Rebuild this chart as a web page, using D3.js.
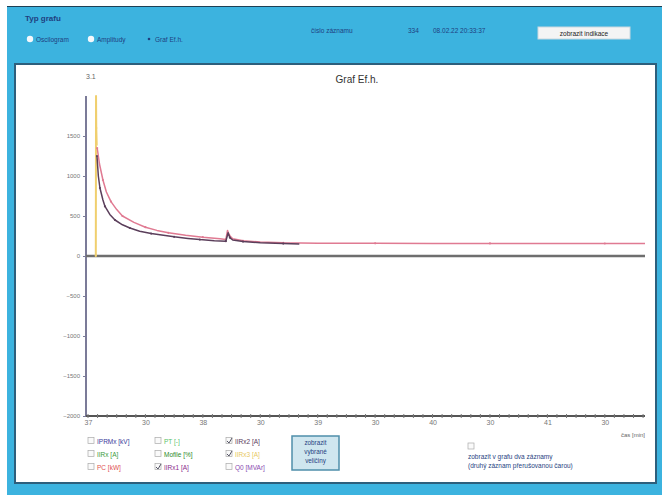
<!DOCTYPE html>
<html>
<head>
<meta charset="utf-8">
<script src="https://cdn.jsdelivr.net/npm/d3@7"></script>
<style>
  body { margin: 0; background: #fff; }
  svg { display: block; font-family: "Liberation Sans", Arial, sans-serif; }
</style>
</head>
<body>
<svg id="chart" width="662" height="495"></svg>
<script>
// time in minutes, values in A
const xTicks = [37, 37.5, 38, 38.5, 39, 39.5, 40, 40.5, 41, 41.5];
const xTickLabels = ['37', '30', '38', '30', '39', '30', '40', '30', '41', '30'];
const yTicks = [1500, 1000, 500, 0, -500, -1000, -1500, -2000];

const yellowT = [37.068, 37.070, 37.072, 37.076];
const yellowV = [0, 2000, 1600, 1380];

const darkT = [37.078, 37.09, 37.104, 37.13, 37.148, 37.19, 37.235, 37.3, 37.365, 37.45, 37.55, 37.626, 37.75, 37.87, 37.974, 38.1, 38.2, 38.22, 38.235, 38.26, 38.35, 38.5, 38.7, 38.84];
const darkV = [1250, 1000, 850, 700, 620, 520, 450, 390, 350, 310, 280, 265, 240, 220, 205, 192, 185, 290, 230, 200, 180, 165, 155, 150];

const pinkT = [37.08, 37.1, 37.13, 37.16, 37.2, 37.25, 37.3, 37.4, 37.5, 37.6, 37.7, 37.85, 38.0, 38.15, 38.2, 38.215, 38.23, 38.26, 38.35, 38.5, 38.7, 39.0, 39.5, 40.0, 40.5, 41.0, 41.5, 41.85];
const pinkV = [1350, 1150, 950, 800, 680, 580, 500, 420, 360, 320, 290, 260, 235, 215, 205, 320, 260, 215, 190, 175, 165, 160, 158, 157, 157, 156, 156, 156];

const legendNames = ['IPRMx [kV]', 'IIRx [A]', 'PC [kW]', 'PT [-]', 'Mofile [%]', 'IIRx1 [A]', 'IIRx2 [A]', 'IIRx3 [A]', 'Q0 [MVAr]'];
const legendColors = ['#3a3a9a', '#3a9a3a', '#e05050', '#5abf6a', '#2a8a2a', '#8a2a8a', '#5a3a5a', '#e8c860', '#8a4ab0'];
const legendChecked = [false, false, false, false, false, true, true, true, false];

const svg = d3.select('#chart');

// page background
svg.append('rect').attr('x', 7).attr('y', 6).attr('width', 655).attr('height', 489).attr('fill', '#3cb3df');
svg.append('line').attr('x1', 7).attr('x2', 662).attr('y1', 6.5).attr('y2', 6.5).attr('stroke', '#1d3f55');
svg.append('rect').attr('x', 15).attr('y', 64).attr('width', 641).attr('height', 419)
    .attr('fill', '#fff').attr('stroke', '#2d5f7c').attr('stroke-width', 2);

// ---- header controls ----
const dark = '#1f3f7f';
svg.append('text').attr('x', 25).attr('y', 21).attr('font-size', 8).attr('font-weight', 'bold')
    .attr('fill', dark).text('Typ grafu');
const radios = [['Oscilogram', 27], ['Amplitudy', 88], ['Graf Ef.h.', 146]];
radios.forEach(([name, x], i) => {
    if (i < 2) {
        svg.append('circle').attr('cx', x + 3).attr('cy', 39).attr('r', 3.2).attr('fill', '#f4f8fc');
    } else {
        svg.append('circle').attr('cx', x + 3).attr('cy', 39).attr('r', 1.3).attr('fill', dark);
    }
    svg.append('text').attr('x', x + 9).attr('y', 41.5).attr('font-size', 6.5).attr('fill', dark).text(name);
});
svg.append('text').attr('x', 311).attr('y', 33).attr('font-size', 6.5).attr('fill', dark).text('číslo záznamu');
svg.append('text').attr('x', 408).attr('y', 33).attr('font-size', 6.5).attr('fill', dark).text('334');
svg.append('text').attr('x', 433).attr('y', 33).attr('font-size', 6.5).attr('fill', dark).text('08.02.22 20:33:37');
svg.append('rect').attr('x', 538).attr('y', 27).attr('width', 92).attr('height', 12)
    .attr('fill', '#f4f4f4').attr('stroke', '#c8d8e0');
svg.append('text').attr('x', 584).attr('y', 36).attr('text-anchor', 'middle').attr('font-size', 6.5)
    .attr('fill', '#222').text('zobrazit indikace');

// ---- plot ----
const x = d3.scaleLinear().domain([37, 41.85]).range([88, 645]);
const y = d3.scaleLinear().domain([-2000, 2000]).range([416, 96]);

const g = svg.append('g');

g.append('text').attr('x', 357).attr('y', 83).attr('text-anchor', 'middle').attr('font-size', 10)
    .attr('fill', '#333').text('Graf Ef.h.');
g.append('text').attr('x', 86).attr('y', 79).attr('font-size', 7).attr('fill', '#666').text('3.1');

// y axis
const yAxis = d3.axisLeft(y).tickValues(yTicks).tickSize(3).tickFormat(d3.format('d'));
const yg = g.append('g').attr('transform', 'translate(86,0)').call(yAxis);
yg.select('.domain').attr('stroke', '#7b7b98').attr('stroke-width', 2).attr('d', 'M0,' + y(2000) + 'V' + y(-2000));
yg.selectAll('.tick line').attr('stroke', '#7b7b98');
yg.selectAll('.tick text').attr('font-size', 6).attr('fill', '#777').attr('font-family', 'Liberation Sans, Arial');

// x axis
const xAxis = d3.axisBottom(x).tickValues(xTicks).tickSize(0)
    .tickFormat(d => xTickLabels[xTicks.indexOf(d)]);
const xg = g.append('g').attr('transform', 'translate(0,' + y(-2000) + ')').call(xAxis);
xg.select('.domain').attr('stroke', '#555').attr('stroke-width', 2).attr('d', 'M86,0H645');
xg.selectAll('.tick text').attr('font-size', 7).attr('fill', '#777').attr('dy', '0.9em')
    .attr('font-family', 'Liberation Sans, Arial');
// minor ticks every 5 s
const minor = d3.range(37, 41.85, 1 / 12);
g.append('g').selectAll('line').data(minor).join('line')
    .attr('x1', d => x(d)).attr('x2', d => x(d))
    .attr('y1', y(-2000) - 2).attr('y2', y(-2000) + 2)
    .attr('stroke', '#777').attr('stroke-width', 1);
g.append('text').attr('x', 645).attr('y', 437).attr('text-anchor', 'end').attr('font-size', 6)
    .attr('fill', '#666').text('čas [min]');

// zero line
g.append('line').attr('x1', 86).attr('x2', 645).attr('y1', y(0)).attr('y2', y(0))
    .attr('stroke', '#6e6e6e').attr('stroke-width', 2.5);

// series
const line = d3.line().x(d => x(d[0])).y(d => y(d[1]));
const series = [
    [yellowT, yellowV, '#f0cf6e', 2],
    [pinkT, pinkV, '#e07a92', 1.5],
    [darkT, darkV, '#5b3f5b', 1.5]
];
series.forEach(([t, v, c, w]) => {
    const pts = t.map((d, i) => [d, v[i]]);
    g.append('path').datum(pts).attr('d', line).attr('fill', 'none')
        .attr('stroke', c).attr('stroke-width', w).attr('stroke-linejoin', 'round');
    g.append('g').selectAll('circle').data(pts.filter((d, i) => i % 2 === 0)).join('circle')
        .attr('cx', d => x(d[0])).attr('cy', d => y(d[1])).attr('r', 1.1).attr('fill', c);
});

// ---- legend ----
const lg = svg.append('g');
legendNames.forEach((name, i) => {
    const col = Math.floor(i / 3), row = i % 3;
    const lx = [88, 155, 226][col], ly = 441 + row * 13;
    lg.append('rect').attr('x', lx).attr('y', ly - 3.5).attr('width', 6).attr('height', 6)
        .attr('fill', '#fafafa').attr('stroke', '#aaa').attr('stroke-width', 0.7);
    if (legendChecked[i]) {
        lg.append('path').attr('d', `M${lx + 1},${ly} l2,2 l3,-5`).attr('fill', 'none')
            .attr('stroke', '#556').attr('stroke-width', 1);
    }
    lg.append('text').attr('x', lx + 9).attr('y', ly + 2.5).attr('font-size', 6.5)
        .attr('fill', legendColors[i]).text(name);
});

// button
svg.append('rect').attr('x', 292).attr('y', 436).attr('width', 47).attr('height', 34)
    .attr('fill', '#cfe6ef').attr('stroke', '#4f8fab').attr('stroke-width', 1.5);
['zobrazit', 'vybrané', 'veličiny'].forEach((t, i) => {
    svg.append('text').attr('x', 315.5).attr('y', 445 + i * 9).attr('text-anchor', 'middle')
        .attr('font-size', 6.3).attr('fill', dark).text(t);
});

// two-record option
svg.append('rect').attr('x', 468).attr('y', 443).attr('width', 6).attr('height', 6)
    .attr('fill', '#fafafa').attr('stroke', '#aaa').attr('stroke-width', 0.7);
svg.append('text').attr('x', 468).attr('y', 459).attr('font-size', 6.5).attr('fill', dark)
    .text('zobrazit v grafu dva záznamy');
svg.append('text').attr('x', 468).attr('y', 468).attr('font-size', 6.5).attr('fill', dark)
    .text('(druhý záznam přerušovanou čarou)');
</script>
</body>
</html>
